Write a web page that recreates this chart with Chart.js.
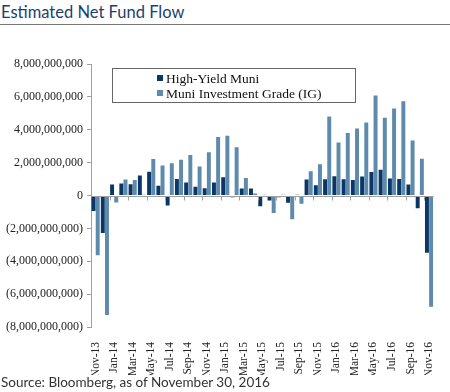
<!DOCTYPE html>
<html>
<head>
<meta charset="utf-8">
<script src="https://cdn.jsdelivr.net/npm/chart.js@4.4.1/dist/chart.umd.min.js"></script>
<style>
  body { margin: 0; background: #fff; width: 450px; height: 392px; overflow: hidden; position: relative; }
  #title { position: absolute; left: 1px; top: 2px; font-family: Lato, sans-serif; font-size: 16.5px; color: #1d3f6e; }
  #rule { position: absolute; left: 0; top: 24px; width: 450px; height: 0; border-top: 1px solid #777; }
  #wrap { position: absolute; left: 0; top: 30px; width: 450px; height: 345px; }
  #source { position: absolute; left: 1px; top: 374px; font-family: Lato, sans-serif; font-size: 13.5px; color: #333; }
</style>
</head>
<body>
<div id="title">Estimated Net Fund Flow</div>
<div id="rule"></div>
<div id="wrap"><canvas id="flowChart"></canvas></div>
<div id="source">Source: Bloomberg, as of November 30, 2016</div>
<script>
var months = ['Nov-13','Dec-13','Jan-14','Feb-14','Mar-14','Apr-14','May-14','Jun-14','Jul-14','Aug-14',
    'Sep-14','Oct-14','Nov-14','Dec-14','Jan-15','Feb-15','Mar-15','Apr-15','May-15','Jun-15',
    'Jul-15','Aug-15','Sep-15','Oct-15','Nov-15','Dec-15','Jan-16','Feb-16','Mar-16','Apr-16',
    'May-16','Jun-16','Jul-16','Aug-16','Sep-16','Oct-16','Nov-16'];

var highYield = [-950000000,-2280000000,670000000,730000000,690000000,1210000000,1450000000,600000000,-610000000,1010000000,
    790000000,530000000,440000000,790000000,1110000000,-100000000,420000000,420000000,-650000000,-300000000,
    -100000000,-440000000,50000000,970000000,630000000,990000000,1170000000,990000000,950000000,1150000000,
    1430000000,1560000000,1030000000,1010000000,670000000,-770000000,-3490000000];

var investGrade = [-3640000000,-7270000000,-420000000,970000000,950000000,50000000,2220000000,1820000000,1960000000,2180000000,
    2460000000,1760000000,2630000000,3560000000,3640000000,2930000000,1070000000,120000000,50000000,-1070000000,
    40000000,-1450000000,-500000000,1470000000,1900000000,4810000000,3230000000,3800000000,4080000000,4440000000,
    6080000000,4730000000,5290000000,5740000000,3350000000,2240000000,-6770000000];

var seriesNames = ['High-Yield Muni', 'Muni Investment Grade (IG)'];
var seriesColors = ['#0b3768', '#5e8aab'];

var yMin = -8000000000, yMax = 8000000000, yStep = 2000000000;

function fmtMoney(v) {
    var s = Math.abs(v).toLocaleString('en-US');
    return v < 0 ? '(' + s + ')' : s;
}

// zero line tick marks every two months, like the excel category axis
var zeroTicks = {
    id: 'zeroTicks',
    afterDatasetsDraw: function(chart) {
        var x = chart.scales.x, y = chart.scales.y, ctx = chart.ctx;
        var y0 = Math.round(y.getPixelForValue(0)) + 0.5;
        var half = (x.getPixelForValue(1) - x.getPixelForValue(0)) / 2;
        ctx.save();
        ctx.strokeStyle = '#a0a0a0';
        ctx.lineWidth = 1;
        ctx.beginPath();
        ctx.moveTo(x.left, y0);
        ctx.lineTo(x.right, y0);
        for (var i = 2; i < months.length; i += 2) {
            var px = Math.round(x.getPixelForValue(i) - half) + 0.5;
            ctx.moveTo(px, y0);
            ctx.lineTo(px, y0 + 4);
        }
        ctx.stroke();
        ctx.restore();
    }
};

// boxed legend sitting inside the plot
var boxLegend = {
    id: 'boxLegend',
    afterDraw: function(chart) {
        var ctx = chart.ctx, area = chart.chartArea;
        var left = area.left + 21, top = area.top + 4, w = 243, h = 34;
        ctx.save();
        ctx.strokeStyle = '#666';
        ctx.lineWidth = 1;
        ctx.strokeRect(left + 0.5, top + 0.5, w, h);
        ctx.font = '13.5px "Liberation Serif", serif';
        ctx.textBaseline = 'middle';
        ctx.fillStyle = '#111';
        chart.data.datasets.forEach(function(ds, i) {
            var cy = top + 10 + i * 15;
            ctx.fillStyle = ds.backgroundColor;
            ctx.fillRect(left + 45, cy - 3, 6, 6);
            ctx.fillStyle = '#111';
            ctx.fillText(ds.label, left + 54, cy + 1);
        });
        ctx.restore();
    }
};

const ctx = document.getElementById('flowChart').getContext('2d');
const chart = new Chart(ctx, {
    type: 'bar',
    data: {
        labels: months,
        datasets: [{
            label: seriesNames[0],
            data: highYield,
            backgroundColor: seriesColors[0],
            categoryPercentage: 0.9,
            barPercentage: 0.95
        }, {
            label: seriesNames[1],
            data: investGrade,
            backgroundColor: seriesColors[1],
            categoryPercentage: 0.9,
            barPercentage: 0.95
        }]
    },
    options: {
        responsive: true,
        maintainAspectRatio: false,
        animation: false,
        layout: { padding: { top: 34, right: 12, left: 0, bottom: 0 } },
        plugins: {
            legend: { display: false },
            tooltip: { enabled: false }
        },
        scales: {
            x: {
                afterFit: function(s) { s.height = 48; },
                grid: { display: false },
                border: { display: false },
                ticks: {
                    autoSkip: false,
                    maxRotation: 90,
                    minRotation: 90,
                    padding: 7,
                    color: '#222',
                    font: { family: '"Liberation Serif", serif', size: 11.5 },
                    callback: function(val, idx) { return idx % 2 === 0 ? months[idx] : ''; }
                }
            },
            y: {
                min: yMin,
                max: yMax,
                afterFit: function(s) { s.width = 91; },
                ticks: {
                    stepSize: yStep,
                    padding: 4,
                    color: '#222',
                    font: { family: '"Liberation Serif", serif', size: 12 },
                    callback: function(v) { return fmtMoney(v); }
                },
                grid: {
                    drawOnChartArea: false,
                    tickLength: 4,
                    tickColor: '#a0a0a0'
                },
                border: { display: true, color: '#a0a0a0' }
            }
        }
    },
    plugins: [zeroTicks, boxLegend]
});
</script>
</body>
</html>
